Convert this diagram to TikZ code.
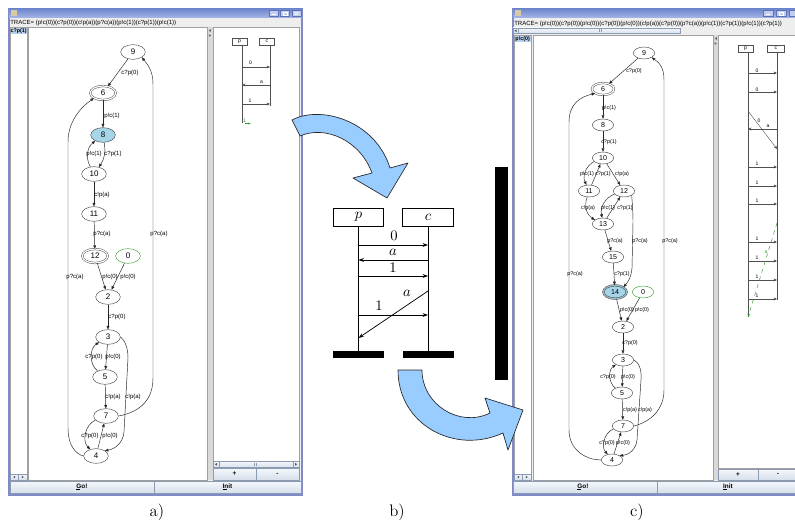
\documentclass[tikz,border=0pt]{standalone}
\usepackage{fontspec}
\usetikzlibrary{shapes.geometric,arrows.meta}
\newfontfamily\uif{Liberation Sans}
\definecolor{winborder}{HTML}{7F8AC6}
\definecolor{titletop}{HTML}{7088CE}
\definecolor{titlebot}{HTML}{A6B6E6}
\definecolor{panelbg}{HTML}{EEEEEE}
\definecolor{paneledge}{HTML}{A0A0A0}
\definecolor{selbg}{HTML}{B8CFEA}
\definecolor{nodeblue}{HTML}{A6D5E8}
\definecolor{nodegreen}{HTML}{3DA33D}
\definecolor{arrowblue}{HTML}{99CCFF}
\definecolor{btntop}{HTML}{F5F8FC}
\definecolor{btnbot}{HTML}{D6DFEA}
\definecolor{btnedge}{HTML}{8A9BB2}
\definecolor{splitbg}{HTML}{D9D9D9}
\definecolor{seqgray}{HTML}{505050}
\definecolor{seqgreen}{HTML}{2E9A2E}
\definecolor{iconc}{HTML}{D8C9A6}
\definecolor{tbtn}{HTML}{C3CEEE}
\definecolor{tbtnedge}{HTML}{5D72B4}
\tikzset{
  gnode/.style={ellipse, draw=black!70, line width=0.35pt, minimum width=18.5pt, minimum height=11pt, inner sep=0pt, font=\uif\fontsize{6}{6}\selectfont},
  gnoder/.style={gnode, minimum width=16pt, minimum height=9pt, font=\uif\fontsize{5.3}{5.3}\selectfont},
  gdbl/.style={double=white, double distance=0.9pt, minimum width=19pt, minimum height=10.5pt},
  gdblr/.style={double distance=0.9pt, minimum width=16.5pt, minimum height=9pt},
  gedge/.style={draw=black!85, line width=0.35pt, -{Triangle[length=2.6pt,width=2.1pt]}},
  glab/.style={font=\uif\fontsize{4.5}{4.5}\selectfont, inner sep=0pt},
  glabr/.style={font=\uif\fontsize{4.1}{4.1}\selectfont, inner sep=0pt},
  tracet/.style={font=\uif\fontsize{4.5}{4.5}\selectfont, inner sep=0pt, anchor=west},
  seltxt/.style={font=\uif\bfseries\fontsize{4}{4}\selectfont, inner sep=0pt},
  btntxt/.style={font=\uif\bfseries\fontsize{4.8}{4.8}\selectfont, inner sep=0pt},
  panel/.style={fill=white, draw=paneledge, line width=0.4pt},
  btn/.style={top color=btntop, bottom color=btnbot, draw=btnedge, line width=0.4pt},
  smbox/.style={draw=seqgray, fill=white, line width=0.35pt, minimum width=11pt, minimum height=5.3pt, inner sep=0pt, font=\uif\fontsize{3.8}{3.8}\selectfont},
  smline/.style={draw=seqgray, line width=0.3pt},
  smarrow/.style={smline, -{Stealth[length=2.6pt,width=2.2pt]}},
  smlab/.style={font=\uif\fontsize{3.8}{3.8}\selectfont, inner sep=0pt},
  mscbox/.style={draw, line width=0.55pt, minimum width=38pt, minimum height=13.5pt, inner sep=0pt, font=\fontsize{10.5}{11}\selectfont},
  mscline/.style={line width=0.55pt},
  mscarrow/.style={mscline, -{Stealth[length=4pt,width=2.8pt]}},
  msclab/.style={font=\fontsize{10.5}{11}\selectfont, inner sep=0pt},
  bigarrow/.style={fill=arrowblue, draw=black!85, line width=0.5pt, line join=round},
  caplabel/.style={font=\fontsize{12.5}{14}\selectfont, inner sep=0pt},
}
\newcommand\ulg[1]{\rlap{\rule[-0.6pt]{0.62em}{0.3pt}}#1}
\begin{document}
\begin{tikzpicture}[x=0.75pt,y=-0.75pt]
\useasboundingbox (0,0) rectangle (795,524);
\clip (0,0) rectangle (795,524);
\fill[white] (0,0) rectangle (795,524);

%================ LEFT WINDOW =================
\fill[winborder] (8,8) rectangle (303,496);
\shade[top color=titletop, bottom color=titlebot] (9,9) rectangle (302,18);
\fill[panelbg] (10,18) rectangle (301,494);
\fill[iconc] (11,10.5) rectangle (16.5,16);
\foreach \bx in {269,280.5,292}{
  \filldraw[fill=tbtn, draw=tbtnedge, line width=0.3pt] (\bx,10.5) rectangle (\bx+9,16);}
\draw[white, line width=0.6pt] (271.5,14.3) -- (275.5,14.3);
\draw[white, line width=0.45pt] (283,12) rectangle (287,15);
\draw[white, line width=0.45pt] (294.5,12) -- (298.5,15) (294.5,15) -- (298.5,12);
\node[tracet] (trL) at (10,22.5) {TRACE= (p!c(0))(c?p(0))(c!p(a))(p?c(a))(p!c(1))(c?p(1))(p!c(1))};
% narrow list
\path[panel] (10,27) rectangle (27,474);
\fill[selbg] (11,28) rectangle (26.5,34);
\node[seltxt] (selL) at (18.7,31) {c?p(1)};
\path[btn] (10,474) rectangle (18.5,480);
\path[btn] (18.5,474) rectangle (27,480);
\fill[black!70] (13.2,477) -- (15.2,475.8) -- (15.2,478.2) -- cycle;
\fill[black!70] (23.8,477) -- (21.8,475.8) -- (21.8,478.2) -- cycle;
% graph panel
\path[panel] (28,27) rectangle (207,480);
% splitter
\fill[splitbg] (207.5,27) rectangle (212.5,480);
\fill[black!60] (208.7,30.5) -- (210.9,29.2) -- (210.9,31.8) -- cycle;
\fill[black!60] (211,35.5) -- (208.8,34.2) -- (208.8,36.8) -- cycle;
% right panel
\path[panel] (213,27) rectangle (299,461);
\path[btn] (213,461) rectangle (299,467.5);
\path[btn] (213,461) rectangle (219,467.5);
\path[btn] (293,461) rectangle (299,467.5);
\fill[black!70] (214.8,464.2) -- (217,463) -- (217,465.5) -- cycle;
\fill[black!70] (297.2,464.2) -- (295,463) -- (295,465.5) -- cycle;
\draw[btnedge, line width=0.3pt] (254,462.5) -- (254,466) (256,462.5) -- (256,466);
\path[btn] (213,468) rectangle (256,480);
\path[btn] (256,468) rectangle (299,480);
\node[btntxt] (plusL) at (234.5,474) {+};
\node[btntxt] (minusL) at (277.5,474) {-};
% bottom buttons
\path[btn] (10,481) rectangle (154,493);
\path[btn] (154,481) rectangle (301,493);
\node[btntxt] (goL) at (82,487) {\ulg{G}o!};
\node[btntxt] (initL) at (227.5,487) {\ulg{I}nit};

% ---- left graph
\node[gnode] (n9) at (133,52) {9};
\node[gnode,gdbl] (n6) at (103,93) {6};
\node[gnode,fill=nodeblue] (n8) at (103,135) {8};
\node[gnode] (n10) at (94,174) {10};
\node[gnode] (n11) at (94,214) {11};
\node[gnode,gdbl] (n12) at (95,256) {12};
\node[gnode,draw=nodegreen] (n0) at (128,256) {0};
\node[gnode] (n2) at (108,297) {2};
\node[gnode] (n3) at (108,337) {3};
\node[gnode] (n5) at (105,377) {5};
\node[gnode] (n7) at (106,416) {7};
\node[gnode] (n4) at (96,456) {4};
\draw[gedge] (n9) -- (n6);
\draw[gedge] (n6) -- (n8);
\draw[gedge] (n10) to[bend left=40] (n8);
\draw[gedge] (n8) to[bend left=22] (n10);
\draw[gedge] (n10) -- (n11);
\draw[gedge] (n11) -- (n12);
\draw[gedge] (n12) -- (n2);
\draw[gedge] (n0) -- (n2);
\draw[gedge] (n2) -- (n3);
\draw[gedge] (n5) to[bend left=55] (n3);
\draw[gedge] (n3) -- (n5);
\draw[gedge] (n5) -- (n7);
\draw[gedge] (n7) to[bend right=55] (n4);
\draw[gedge] (n4) -- (n7);
\draw[gedge] (n3.east) .. controls (124,340) and (128,346) .. (128,358) -- (124,432) .. controls (123,443) and (115,449) .. (n4.north east);
\draw[gedge] (n7.east) .. controls (140,412) and (153,400) .. (153,378) -- (153,84) .. controls (153,70) and (147,64) .. (n9.south east);
\draw[gedge] (n4.west) .. controls (76,454) and (68,446) .. (68,428) -- (68,142) .. controls (68,122) and (80,108) .. (n6.south west);
\foreach \lx/\ly/\lt [count=\i] in {130/73/c?p(0), 112/116/p!c(1), 94/154/p!c(1), 113/154/c?p(1), 102/195/c!p(a), 102/234/p?c(a), 159/234/p?c(a), 75/277/p?c(a), 110/277/p!c(0), 128/277/p!c(0), 117/317/c?p(0), 94/357/c?p(0), 113/357/p!c(0), 113/397/c!p(a), 133/397/c!p(a), 90/436/c?p(0), 110/436/p!c(0)}
  \node[glab] (gl\i) at (\lx,\ly) {\lt};

% ---- left small msc
\node[smbox] (sp) at (239.5,41.5) {p};
\node[smbox] (sc) at (267,41.5) {c};
\coordinate (spe) at (242,123);
\coordinate (sce) at (270,106);
\draw[smline] (spe |- sp.south) -- (spe);
\draw[smline] (sce |- sc.south) -- (sce);
\draw[smarrow] (242,67) -- (270,67);
\draw[smarrow] (270,85) -- (242,85);
\draw[smarrow] (242,104) -- (270,104);
\node[smlab] (s0) at (250.5,63) {0};
\node[smlab] (s1) at (261.5,82) {a};
\node[smlab] (s2) at (250,100.5) {1};
\node[smlab, text=seqgreen] (s3) at (244.5,120.5) {1};
\draw[seqgreen, line width=0.3pt, -{Stealth[length=1.6pt,width=1.5pt]}] (245,123.5) -- (250.5,123.5);

%================ RIGHT WINDOW =================
\fill[winborder] (512,8) rectangle (805,496);
\shade[top color=titletop, bottom color=titlebot] (513,9) rectangle (805,18);
\fill[panelbg] (514,18) rectangle (805,494);
\fill[iconc] (515,10.5) rectangle (520.5,16);
\foreach \bx in {763,776,789}{
  \filldraw[fill=tbtn, draw=tbtnedge, line width=0.3pt] (\bx,10.5) rectangle (\bx+10,16);}
\draw[white, line width=0.6pt] (766,14.3) -- (770,14.3);
\draw[white, line width=0.45pt] (779,12) rectangle (783,15);
\node[tracet] (trR) at (514,23.5) {TRACE= (p!c(0))(c?p(0))(p!c(0))(c?p(0))(p!c(0))(c!p(a))(c?p(0))(p?c(a))(p!c(1))(c?p(1))(p!c(1))(c?p(1))};
\path[btn] (513,28) rectangle (680,33.5);
\path[btn] (513,28) rectangle (518,33.5);
\fill[black!70] (514.3,30.8) -- (516.5,29.6) -- (516.5,32) -- cycle;
\draw[btnedge, line width=0.3pt] (599,29.5) -- (599,32) (601,29.5) -- (601,32);
\path[panel] (514,35) rectangle (531,474);
\fill[selbg] (515,36) rectangle (530.5,42);
\node[seltxt] (selR) at (522.7,39) {p!c(0)};
\path[btn] (514,474) rectangle (522.5,480);
\path[btn] (522.5,474) rectangle (531,480);
\fill[black!70] (517.2,477) -- (519.2,475.8) -- (519.2,478.2) -- cycle;
\fill[black!70] (527.8,477) -- (525.8,475.8) -- (525.8,478.2) -- cycle;
\path[panel] (533,35) rectangle (713,480);
\fill[splitbg] (713.5,35) rectangle (718,480);
\fill[black!60] (714.6,38.5) -- (716.8,37.2) -- (716.8,39.8) -- cycle;
\fill[black!60] (716.9,43.5) -- (714.7,42.2) -- (714.7,44.8) -- cycle;
\path[panel] (718,35) rectangle (805,468);
\path[btn] (718,469) rectangle (758,480);
\path[btn] (758,469) rectangle (805,480);
\node[btntxt] (plusR) at (738,474.5) {+};
\node[btntxt] (minusR) at (778,474.5) {-};
\path[btn] (513,481) rectangle (657,493);
\path[btn] (657,481) rectangle (805,493);
\node[btntxt] (goR) at (583,487) {\ulg{G}o!};
\node[btntxt] (initR) at (728,487) {\ulg{I}nit};

% ---- right graph
\node[gnoder] (r9) at (644,53) {9};
\node[gnoder,gdblr,double=white] (r6) at (603,89) {6};
\node[gnoder] (r8) at (603,125) {8};
\node[gnoder] (r10) at (603,158) {10};
\node[gnoder] (r11) at (589,191) {11};
\node[gnoder] (r12) at (624,191) {12};
\node[gnoder] (r13) at (603,224) {13};
\node[gnoder] (r15) at (613,257) {15};
\node[gnoder,gdblr,double=nodeblue!70!gray,fill=nodeblue,minimum width=17.5pt,minimum height=10pt] (r14) at (615,292) {14};
\node[gnoder,draw=nodegreen] (r0) at (643,292) {0};
\node[gnoder] (r2) at (623,327) {2};
\node[gnoder] (r3) at (623,360) {3};
\node[gnoder] (r5) at (622,393) {5};
\node[gnoder] (r7) at (623,426) {7};
\node[gnoder] (r4) at (612,460) {4};
\draw[gedge] (r9) -- (r6);
\draw[gedge] (r6) -- (r8);
\draw[gedge] (r8) -- (r10);
\draw[gedge] (r10) to[bend right=45] (r11);
\draw[gedge] (r11) -- (r10);
\draw[gedge] (r10) -- (r12);
\draw[gedge] (r11) to[bend right=40] (r13);
\draw[gedge] (r12) to[bend right=40] (r13);
\draw[gedge] (r13) -- (r12);
\draw[gedge] (r13) -- (r15);
\draw[gedge] (r15) -- (r14);
\draw[gedge] (r14) -- (r2);
\draw[gedge] (r0) -- (r2);
\draw[gedge] (r2) -- (r3);
\draw[gedge] (r5) to[bend left=55] (r3);
\draw[gedge] (r3) -- (r5);
\draw[gedge] (r5) -- (r7);
\draw[gedge] (r7) to[bend right=55] (r4);
\draw[gedge] (r4) -- (r7);
\draw[gedge] (r12.south east) .. controls (632,200) and (633,210) .. (633,222) -- (632,268) .. controls (631,279) and (627,283) .. (r14.north east);
\draw[gedge] (r3.east) .. controls (638,362) and (642,368) .. (641,380) -- (637,440) .. controls (636,450) and (628,455) .. (r4.north east);
\draw[gedge] (r7.east) .. controls (650,422) and (664,410) .. (664,390) -- (664,80) .. controls (664,66) and (658,62) .. (r9.south east);
\draw[gedge] (r4.west) .. controls (586,460) and (569,450) .. (569,430) -- (569,122) .. controls (569,104) and (580,97) .. (r6.south west);
\foreach \lx/\ly/\lt [count=\i] in {634/71/c?p(0), 609/108/p!c(1), 609/142/c?p(1), 587/174/p!c(1), 603/174/c?p(1), 622/174/c!p(a), 588/208/c!p(a), 608/208/p!c(1), 625/208/c?p(1), 615/241/p?c(a), 640/241/p?c(a), 670/241/p?c(a), 575/274/p?c(a), 622/274/c?p(1), 627/310/p!c(0), 642/310/p!c(0), 630/343/c?p(0), 608/377/c?p(0), 628/377/p!c(0), 630/410/c!p(a), 645/410/c!p(a), 607/443/c?p(0), 623/443/p!c(0)}
  \node[glabr] (rl\i) at (\lx,\ly) {\lt};

% ---- right small msc
\node[smbox] (tp) at (745.5,48.5) {p};
\node[smbox, minimum width=13pt] (tc) at (776,48.5) {c};
\coordinate (tpe) at (748,317);
\coordinate (tce) at (777,300);
\draw[smline] (tpe |- tp.south) -- (tpe);
\draw[smline] (tce |- tc.south) -- (tce);
\draw[smarrow] (748,73) -- (777,73);
\draw[smarrow] (748,92) -- (777,92);
\draw[smarrow] (748,111) -- (777,149);
\draw[smarrow] (777,129) -- (748,129);
\node[smlab] (t0a) at (757,70.3) {0};
\node[smlab] (t0b) at (757,89.3) {0};
\node[smlab] (t0c) at (759,121) {0};
\node[smlab] (taa) at (768,126) {a};
\foreach \yy [count=\i] in {167,186,204,242,261,280,299}{
  \draw[smarrow] (748,\yy) -- (777,\yy);
  \node[smlab] (t1\i) at (757,\yy-3) {1};}
\draw[seqgreen, dashed, line width=0.35pt, -{Stealth[length=2.6pt,width=2.2pt]}] (777,223) -- (748,317);
\node[smlab, text=seqgreen] (tga) at (766,252) {a};

%================ MIDDLE MSC =================
\node[mscbox] (P) at (358.5,217) {$p$};
\node[mscbox] (C) at (428,217) {$c$};
\coordinate (Pend) at (358.5,351);
\coordinate (Cend) at (428,351);
\draw[mscline] (P.south) -- (Pend);
\draw[mscline] (C.south) -- (Cend);
\fill[black] (333,351) rectangle (384,358);
\fill[black] (403,351) rectangle (454,358);
\coordinate (m1p) at (358.5,245); \coordinate (m1c) at (428,245);
\coordinate (m2p) at (358.5,260); \coordinate (m2c) at (428,260);
\coordinate (m3p) at (358.5,276); \coordinate (m3c) at (428,276);
\coordinate (m4c) at (428,291); \coordinate (m4p) at (358.5,338);
\coordinate (m5p) at (358.5,315); \coordinate (m5c) at (428,315);
\draw[mscarrow] (m1p) -- (m1c);
\draw[mscarrow] (m2c) -- (m2p);
\draw[mscarrow] (m3p) -- (m3c);
\draw[mscarrow] (m4c) -- (m4p);
\draw[mscarrow] (m5p) -- (m5c);
\node[msclab] (ml1) at (394,236) {$0$};
\node[msclab] (ml2) at (393,252) {$a$};
\node[msclab] (ml3) at (393,267.5) {$1$};
\node[msclab] (ml4) at (407,293) {$a$};
\node[msclab] (ml5) at (379,305.5) {$1$};

% black bar
\fill[black] (495,167) rectangle (508,380);

% big arrows
\path[bigarrow] (292,120) .. controls (320,105) and (375,120) .. (390,168) -- (408,163) -- (387,198) -- (353,178) -- (372,173) .. controls (360,140) and (325,125) .. (300,136) -- cycle;
\path[bigarrow] (398,370) .. controls (398,425) and (455,455) .. (503,433) -- (508,450) -- (523,410) -- (485,398) -- (490,413) .. controls (460,428) and (422,405) .. (422,370) -- cycle;

% captions
\node[caplabel] (capa) at (157,512) {a)};
\node[caplabel] (capb) at (397,512) {b)};
\node[caplabel] (capc) at (637,512) {c)};
\end{tikzpicture}
\end{document}
